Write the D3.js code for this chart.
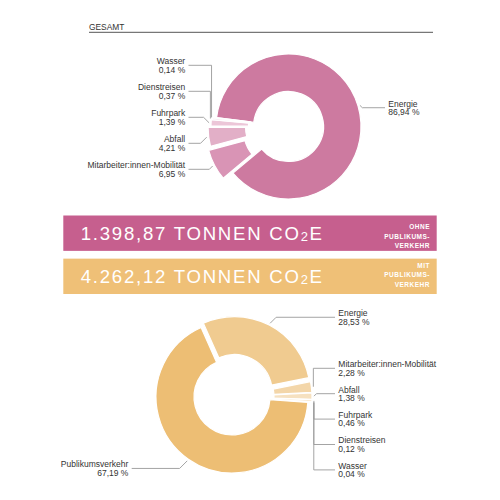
<!doctype html>
<html lang="de">
<head>
  <meta charset="utf-8">
  <title>Gesamt CO2e</title>
  <style>
    body { margin: 0; background: #fff; }
    text { font-family: "Liberation Sans", Arial, Helvetica, sans-serif; }
  </style>
</head>
<body>
<div id="chart"></div>

<script src="https://cdnjs.cloudflare.com/ajax/libs/d3/7.8.5/d3.min.js"></script>
<script>

// data
const categoriesTop = ["Energie", "Mitarbeiter:innen-Mobilität", "Abfall", "Fuhrpark", "Dienstreisen", "Wasser"]
const valuesTop = [86.94, 6.95, 4.21, 1.39, 0.37, 0.14]

const categoriesBottom = ["Energie", "Mitarbeiter:innen-Mobilität", "Abfall", "Fuhrpark", "Dienstreisen", "Wasser", "Publikumsverkehr"]
const valuesBottom = [28.53, 2.28, 1.38, 0.46, 0.12, 0.04, 67.19]

const totals = ["1.398,87", "4.262,12"]
const totalNotes = [["OHNE", "PUBLIKUMS-", "VERKEHR"], ["MIT", "PUBLIKUMS-", "VERKEHR"]]
const heading = "GESAMT"

// colours
const pinkShades = ["#cd7aa0", "#d994b5", "#e2afc7", "#ecc6d8", "#f0d2e0", "#f4dde8"]
const orangeShades = ["#f0cb90", "#f3d6a9", "#f6e1c0", "#f8e8cf", "#f9eed9", "#faf1e0", "#edbe74"]
const bannerColors = ["#c65f8e", "#efc077"]

// layout (not data)
const topLayout = {
  cx: 288.5, cy: 126.5, rOut: 72.5, rIn: 35, startDeg: -83, colL: 100, colR: 96.5,
  explode: [0, 11, 8, 5, 4, 3],
  labelDy: [2.4, null, null, null, null, null],
  stackY0: 169.3, stackGap: -26
}
const bottomLayout = {
  cx: 232, cy: 397, rOut: 76, rIn: 38, startDeg: -24, colL: 100.3, colR: 103,
  explode: [5, 4, 4, 4, 4, 4, 0],
  labelDy: [-6, null, null, null, null, null, 7.6],
  stackY0: 368.3, stackGap: 25.4
}

const W = 500, H = 500
const locale = d3.formatLocale({ decimal: ",", thousands: ".", grouping: [3], currency: ["", " €"] })
const pct = v => locale.format(".2f")(v) + " %"

const svg = d3.select("#chart").append("svg")
  .attr("width", W)
  .attr("height", H)

// heading
svg.append("text")
  .attr("x", 89)
  .attr("y", 29.5)
  .attr("font-size", 8.4)
  .attr("fill", "#333")
  .text(heading)

svg.append("line")
  .attr("x1", 89).attr("x2", 433)
  .attr("y1", 32.3).attr("y2", 32.3)
  .attr("stroke", "#555")
  .attr("stroke-width", 1)

function donut(categories, values, colors, L) {
  const rad = L.startDeg * Math.PI / 180
  const pie = d3.pie().sort(null).value(d => d)
    .startAngle(rad).endAngle(rad + 2 * Math.PI)
  const arcs = pie(values)

  const arc = d3.arc().innerRadius(L.rIn).outerRadius(L.rOut)

  const g = svg.append("g")
    .attr("transform", "translate(" + L.cx + "," + L.cy + ")")

  arcs.forEach((a, i) => {
    const mid = (a.startAngle + a.endAngle) / 2
    const e = L.explode[i]
    g.append("path")
      .attr("d", arc(a))
      .attr("fill", colors[i])
      .attr("stroke", "#fff")
      .attr("stroke-width", 1.2)
      .attr("stroke-linejoin", "round")
      .attr("transform", "translate(" + (Math.sin(mid) * e) + "," + (-Math.cos(mid) * e) + ")")
  })

  // labels
  let k = 0
  arcs.forEach((a, i) => {
    const mid = (a.startAngle + a.endAngle) / 2
    const r = L.rOut + L.explode[i] + 2
    const ax = Math.sin(mid) * r, ay = -Math.cos(mid) * r
    const dir = Math.sin(mid) >= 0 ? 1 : -1

    let ly
    if (L.labelDy[i] === null) { ly = L.stackY0 - L.cy + k * L.stackGap; k++ }
    else ly = ay + L.labelDy[i]

    const dy = ly - ay
    const ex = Math.abs(dy) <= 10 ? ax + dir * Math.abs(dy) : ax
    const endX = dir > 0 ? L.colR : -L.colL

    g.append("polyline")
      .attr("points", [[ax, ay], [ex, ly], [endX, ly]].map(p => p.join(",")).join(" "))
      .attr("fill", "none")
      .attr("stroke", "#9a9a9a")
      .attr("stroke-width", 0.9)

    const t = g.append("text")
      .attr("font-size", 8.5)
      .attr("fill", "#333")
      .attr("text-anchor", dir > 0 ? "start" : "end")
    t.append("tspan")
      .attr("x", endX + dir * 3.3)
      .attr("y", ly - 1.1)
      .text(categories[i])
    t.append("tspan")
      .attr("x", endX + dir * 3.3)
      .attr("y", ly + 7.3)
      .text(pct(values[i]))
  })
}

donut(categoriesTop, valuesTop, pinkShades, topLayout)
donut(categoriesBottom, valuesBottom, orangeShades, bottomLayout)

// banners
const bannerY = d3.scaleBand().domain(d3.range(totals.length)).range([215.5, 294]).paddingInner(0.18)

totals.forEach((v, i) => {
  const y0 = bannerY(i), bh = bannerY.bandwidth()
  svg.append("rect")
    .attr("x", 63.3).attr("y", y0)
    .attr("width", 373.4).attr("height", bh)
    .attr("fill", bannerColors[i])

  const t = svg.append("text")
    .attr("x", 80.7)
    .attr("y", y0 + bh / 2 + 6.8)
    .attr("font-size", 18.6)
    .attr("letter-spacing", 1.75)
    .attr("fill", "#fff")
  t.append("tspan").text(v + " TONNEN CO")
  t.append("tspan").attr("font-size", 13).attr("dy", 1.2).text("2")
  t.append("tspan").attr("dy", -1.2).text("E")

  const notes = totalNotes[i]
  const top = i === 0 ? y0 + 13.7 : y0 + 9.2
  notes.forEach((n, j) => {
    svg.append("text")
      .attr("x", 430)
      .attr("y", top + j * 9.4)
      .attr("text-anchor", "end")
      .attr("font-size", 6.5)
      .attr("font-weight", "bold")
      .attr("letter-spacing", 0.5)
      .attr("fill", "#fff")
      .text(n)
  })
})

</script>
</body>
</html>
